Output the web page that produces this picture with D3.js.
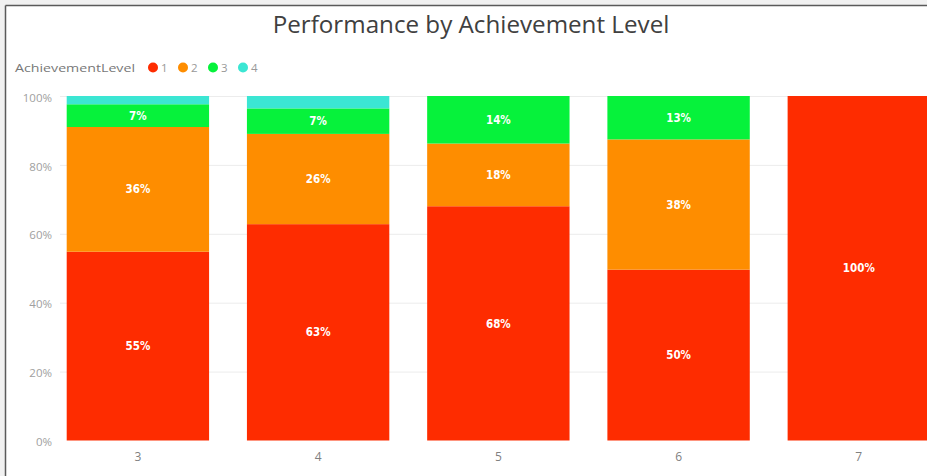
<!DOCTYPE html>
<html>
<head>
<meta charset="utf-8">
<script src="https://cdn.jsdelivr.net/npm/d3@7"></script>
<style>
  html, body { margin: 0; padding: 0; background: #fff; }
  svg { display: block; }
</style>
</head>
<body>
<svg id="chart" width="927" height="476"></svg>
<script>
// ---- data ----
const categories = ["3", "4", "5", "6", "7"];
const levels = ["1", "2", "3", "4"];
const level1 = [54.8, 62.8, 68.0, 49.6, 100];
const level2 = [36.2, 26.2, 18.2, 37.8, 0];
const level3 = [6.6, 7.4, 13.8, 12.6, 0];
const level4 = [2.4, 3.6, 0, 0, 0];
const yTicks = [0, 20, 40, 60, 80, 100];
const colors = ["#FE2C00", "#FE8D00", "#06F23B", "#3BE6D3"];
const title = "Performance by Achievement Level";
const legendTitle = "AchievementLevel";

const series = [level1, level2, level3, level4];
const rows = categories.map((c, i) => {
  const r = { cat: c };
  levels.forEach((l, j) => r[l] = series[j][i]);
  return r;
});

const svg = d3.select("#chart");
const W = 927, H = 476;
const font = "'Segoe UI', 'Open Sans', 'Noto Sans', sans-serif";

// background & frame
svg.append("rect").attr("x", 0).attr("y", 0).attr("width", W).attr("height", H).attr("fill", "#f1f1f1");
svg.append("rect").attr("x", 6).attr("y", 6).attr("width", W).attr("height", H).attr("fill", "#fff");
svg.append("line").attr("x1", 5.5).attr("x2", W).attr("y1", 5.5).attr("y2", 5.5).attr("stroke", "#5a5a5a").attr("stroke-width", 1.5);
svg.append("line").attr("x1", 5.5).attr("x2", 5.5).attr("y1", 5.5).attr("y2", H).attr("stroke", "#5a5a5a").attr("stroke-width", 1.5);

// scales
const x = d3.scaleBand().domain(categories).range([66.7, 930]).paddingInner(0.21).paddingOuter(0);
const y = d3.scaleLinear().domain([0, 100]).range([440.5, 96]);
const color = d3.scaleOrdinal().domain(levels).range(colors);

// gridlines
const grid = svg.append("g").attr("transform", "translate(60,0)")
  .call(d3.axisLeft(y).tickValues(yTicks.filter(t => t > 0)).tickSize(-(W - 60)).tickFormat(""));
grid.select(".domain").remove();
grid.selectAll(".tick line").attr("stroke", "#ececec").attr("stroke-width", 1);

// y axis labels
const yAxis = svg.append("g").attr("transform", "translate(52,0)")
  .call(d3.axisLeft(y).tickValues(yTicks).tickSize(0).tickPadding(0).tickFormat(d => d + "%"));
yAxis.select(".domain").remove();
yAxis.selectAll("text").attr("font-family", font).attr("font-size", 11.5).attr("fill", "#a0a0a0").attr("dy", "0.45em");

// x axis labels
const xAxis = svg.append("g").attr("transform", "translate(0,441)")
  .call(d3.axisBottom(x).tickSize(0).tickPadding(11));
xAxis.select(".domain").remove();
xAxis.selectAll("text").attr("font-family", font).attr("font-size", 12).attr("fill", "#808080");

// stacked bars
const stack = d3.stack().keys(levels)(rows);
const layers = svg.append("g").selectAll("g").data(stack).join("g").attr("fill", d => color(d.key));
layers.selectAll("rect").data(d => d).join("rect")
  .attr("x", d => x(d.data.cat))
  .attr("width", x.bandwidth())
  .attr("y", d => y(d[1]))
  .attr("height", d => Math.max(0, y(d[0]) - y(d[1])));

// data labels
const lab = svg.append("g");
stack.forEach(layer => {
  layer.forEach(d => {
    const h = y(d[0]) - y(d[1]);
    if (h < 18) return;
    lab.append("text")
      .attr("x", x(d.data.cat) + x.bandwidth() / 2)
      .attr("y", (y(d[0]) + y(d[1])) / 2)
      .attr("dy", "0.36em")
      .attr("text-anchor", "middle")
      .attr("font-family", "'Liberation Sans Narrow', 'DejaVu Sans Condensed', 'Roboto Condensed', sans-serif")
      .attr("font-stretch", "condensed")
      .attr("font-weight", "bold")
      .attr("font-size", 11.5)
      .attr("fill", "#fff")
      .text(Math.round(d[1] - d[0]) + "%");
  });
});

// title
const t = svg.append("text").attr("x", 471).attr("y", 33).attr("text-anchor", "middle")
  .attr("font-family", font).attr("font-weight", 400).attr("font-size", 20).attr("fill", "#404040").text(title);
const tl = t.node().getComputedTextLength();
t.attr("font-size", 20 * 397 / tl);

// legend
const lt = svg.append("text").attr("x", 15).attr("y", 71.5)
  .attr("font-family", font).attr("font-size", 11.5).attr("fill", "#777").text(legendTitle);
lt.attr("textLength", 120).attr("lengthAdjust", "spacingAndGlyphs");
const lg = svg.append("g");
levels.forEach((l, i) => {
  const cx = 153 + i * 30;
  lg.append("circle").attr("cx", cx).attr("cy", 67.5).attr("r", 5).attr("fill", color(l));
  lg.append("text").attr("x", cx + 8).attr("y", 71.5).attr("font-family", font)
    .attr("font-size", 11.5).attr("fill", "#999").text(l);
});
</script>
</body>
</html>
